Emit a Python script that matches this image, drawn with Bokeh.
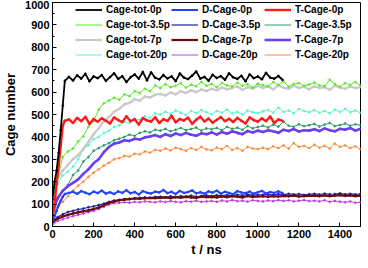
from bokeh.plotting import figure
from bokeh.models import Legend, LegendItem, FixedTicker, Range1d
from bokeh.embed import file_html
from bokeh.resources import INLINE

# ---- time grids (ns) ----
T0 = [0, 10, 20, 30, 40, 50, 60,
      80, 100, 120, 140, 160, 180, 200, 220, 240, 260,
      280, 300, 320, 340, 360, 380, 400, 420, 440, 460,
      480, 500, 520, 540, 560, 580, 600, 620, 640, 660,
      680, 700, 720, 740, 760, 780, 800, 820, 840, 860,
      880, 900, 920, 940, 960, 980, 1000, 1020, 1040, 1060,
      1080, 1100, 1120]

T1 = [0, 10,
      25, 50, 75, 100, 125, 150, 175, 200, 225, 250,
      275, 300, 325, 350, 375, 400, 425, 450, 475, 500,
      525, 550, 575, 600, 625, 650, 675, 700, 725, 750,
      775, 800, 825, 850, 875, 900, 925, 950, 975, 1000,
      1025, 1050, 1075, 1100, 1125, 1150, 1175, 1200, 1225, 1250,
      1275, 1300, 1325, 1350, 1375, 1400, 1425, 1450, 1475, 1500]

# ---- 0p series (on T0) ----
cage_tot_0p = [120, 200, 250, 330, 430, 540, 650,
               668, 652, 675, 660, 682, 648, 670, 662, 676, 650,
               667, 684, 659, 671, 645, 666, 679, 660, 690, 652,
               688, 664, 657, 676, 661, 670, 649, 683, 665, 658,
               674, 692, 660, 668, 651, 677, 663, 671, 655, 684,
               666, 659, 673, 648, 679, 662, 670, 657, 686, 665,
               660, 672, 655]
d_cage_0p = [25, 45, 70, 95, 115, 132, 145,
             150, 155, 146, 158, 151, 144, 156, 149, 160, 147,
             153, 145, 157, 150, 162, 148, 154, 143, 158, 151,
             147, 156, 152, 163, 149, 155, 145, 159, 150, 154,
             161, 148, 153, 146, 157, 151, 160, 147, 155, 150,
             144, 158, 152, 149, 156, 146, 153, 159, 148, 154,
             150, 157, 149]
t_cage_0p = [40, 100, 190, 270, 360, 450, 472,
             478, 462, 485, 470, 490, 458, 480, 468, 483, 472,
             460, 487, 475, 466, 492, 470, 479, 455, 484, 474,
             468, 488, 462, 479, 471, 495, 465, 480, 473, 486,
             458, 477, 490, 469, 482, 463, 476, 489, 470, 481,
             466, 485, 472, 460, 487, 475, 468, 483, 470, 491,
             462, 478, 472]

# ---- other series (on T1) ----
cage_tot_35p = [130, 170,
                220, 310, 335, 348, 380, 402, 445, 470, 522, 550,
                562, 575, 566, 590, 582, 604, 596, 615, 604, 630,
                618, 635, 622, 628, 640, 620, 633, 626, 645, 628,
                636, 622, 640, 630, 625, 642, 628, 635, 620, 638,
                630, 626, 645, 632, 648, 624, 636, 640, 628, 634,
                642, 630, 626, 655, 636, 624, 640, 632, 645, 630]
d_cage_35p = [20, 30,
              42, 55, 65, 70, 76, 80, 86, 90, 96, 102,
              110, 116, 118, 122, 124, 126, 128, 130, 128, 132,
              133, 130, 135, 132, 136, 134, 138, 133, 136, 139,
              136, 140, 137, 141, 138, 142, 139, 143, 140, 141,
              142, 144, 140, 145, 142, 146, 143, 145, 141, 144,
              146, 143, 147, 144, 145, 148, 144, 146, 143, 145]
t_cage_35p = [80, 110,
              130, 158, 185, 230, 250, 290, 310, 338, 350, 362,
              372, 385, 392, 400, 410, 405, 418, 425, 420, 432,
              428, 436, 425, 432, 440, 430, 435, 442, 428, 438,
              434, 440, 430, 445, 436, 441, 432, 448, 438, 444,
              450, 442, 455, 446, 468, 450, 445, 456, 448, 452,
              458, 446, 455, 462, 448, 453, 460, 450, 456, 452]
cage_tot_7p = [140, 180,
               215, 250, 275, 302, 318, 348, 378, 412, 438, 470,
               488, 512, 525, 545, 552, 568, 562, 580, 576, 588,
               592, 585, 598, 590, 604, 596, 608, 600, 612, 605,
               615, 608, 620, 612, 618, 625, 610, 622, 615, 628,
               618, 625, 612, 630, 620, 615, 628, 618, 624, 612,
               626, 618, 622, 610, 628, 620, 615, 625, 618, 622]
d_cage_7p = [20, 28,
             35, 45, 52, 58, 63, 68, 72, 78, 85, 95,
             105, 112, 118, 120, 122, 125, 124, 126, 128, 127,
             128, 130, 127, 131, 129, 132, 130, 128, 133, 131,
             132, 130, 134, 131, 135, 133, 130, 136, 132, 134,
             135, 133, 136, 134, 137, 135, 138, 134, 136, 137,
             138, 135, 139, 136, 138, 140, 137, 139, 136, 138]
t_cage_7p = [50, 90,
             125, 160, 180, 195, 210, 235, 255, 282, 300, 332,
             355, 370, 375, 385, 382, 392, 388, 398, 402, 408,
             400, 412, 404, 415, 408, 418, 410, 405, 416, 412,
             420, 410, 422, 414, 425, 418, 412, 426, 420, 428,
             422, 430, 425, 418, 432, 426, 435, 424, 430, 428,
             434, 426, 438, 430, 425, 436, 432, 440, 428, 436]
cage_tot_20p = [120, 150,
                190, 228, 245, 268, 300, 345, 362, 390, 400, 418,
                428, 445, 452, 468, 462, 480, 476, 492, 485, 505,
                500, 512, 503, 518, 508, 498, 515, 506, 520, 510,
                502, 516, 508, 522, 505, 512, 500, 518, 510, 506,
                514, 520, 508, 530, 512, 518, 505, 525, 515, 510,
                520, 508, 516, 505, 522, 512, 525, 510, 518, 508]
d_cage_20p = [10, 18,
              25, 32, 40, 46, 52, 58, 64, 70, 78, 88,
              98, 104, 106, 108, 106, 110, 108, 112, 110, 108,
              112, 109, 114, 110, 108, 113, 111, 115, 110, 112,
              114, 110, 116, 112, 118, 113, 115, 111, 117, 114,
              112, 116, 113, 118, 114, 117, 112, 115, 118, 113,
              115, 112, 117, 110, 114, 111, 108, 112, 106, 108]
t_cage_20p = [60, 75,
              90, 110, 135, 160, 182, 200, 222, 240, 255, 272,
              285, 300, 305, 315, 312, 325, 322, 335, 330, 342,
              338, 348, 340, 352, 345, 338, 350, 342, 355, 344,
              340, 352, 345, 360, 342, 350, 338, 355, 348, 345,
              352, 345, 358, 350, 362, 348, 372, 356, 360, 350,
              365, 352, 360, 348, 370, 356, 362, 350, 358, 345]

x_ticks = [0, 200, 400, 600, 800, 1000, 1200, 1400]
x_minor = [100, 300, 500, 700, 900, 1100, 1300, 1500]
y_ticks = [0, 100, 200, 300, 400, 500, 600, 700, 800, 900, 1000]
y_minor = [50, 150, 250, 350, 450, 550, 650, 750, 850, 950]

FONT = "Liberation Sans"

p = figure(frame_width=308, frame_height=224,
           x_range=Range1d(0, 1500), y_range=Range1d(0, 1000),
           output_backend="svg", toolbar_location=None,
           min_border_left=46, min_border_top=2, min_border_right=4,
           min_border_bottom=30)
p.xgrid.visible = False
p.ygrid.visible = False
p.outline_line_color = "black"
p.outline_line_alpha = 1.0
p.outline_line_width = 1

p.xaxis.ticker = FixedTicker(ticks=x_ticks, minor_ticks=x_minor)
p.yaxis.ticker = FixedTicker(ticks=y_ticks, minor_ticks=y_minor)
p.xaxis.axis_label = "t / ns"
p.yaxis.axis_label = "Cage number"
for ax in (p.xaxis[0], p.yaxis[0]):
    ax.major_label_text_font = FONT
    ax.major_label_text_font_style = "bold"
    ax.major_label_text_font_size = "11px"
    ax.major_label_text_color = "black"
    ax.axis_label_text_font = FONT
    ax.axis_label_text_font_style = "bold"
    ax.axis_label_text_font_size = "13px"
    ax.axis_label_text_color = "black"
    ax.major_tick_in = 4
    ax.major_tick_out = 0
    ax.minor_tick_in = 2
    ax.minor_tick_out = 0
    ax.axis_line_color = "black"
    ax.major_tick_line_color = "black"
    ax.minor_tick_line_color = "black"
    ax.major_label_standoff = 3
p.xaxis.axis_label_standoff = 1
p.yaxis.axis_label_standoff = 4

series = {
    "T-Cage-20p": (T1, t_cage_20p, "#ff8a3d", 1.0),
    "D-Cage-20p": (T1, d_cage_20p, "#c040e8", 1.0),
    "T-Cage-3.5p": (T1, t_cage_35p, "#2a9d6a", 1.0),
    "Cage-tot-20p": (T1, cage_tot_20p, "#5cf5cc", 1.0),
    "Cage-tot-7p": (T1, cage_tot_7p, "#c8c8c8", 2.2),
    "Cage-tot-3.5p": (T1, cage_tot_35p, "#55ee22", 1.0),
    "D-Cage-3.5p": (T1, d_cage_35p, "#2222aa", 1.2),
    "D-Cage-7p": (T1, d_cage_7p, "#6b0a0a", 2.2),
    "T-Cage-7p": (T1, t_cage_7p, "#6a40f0", 2.6),
    "D-Cage-0p": (T0, d_cage_0p, "#2244ff", 2.0),
    "T-Cage-0p": (T0, t_cage_0p, "#ff1a1a", 2.4),
    "Cage-tot-0p": (T0, cage_tot_0p, "#000000", 1.8),
}

rend = {}
for name, (tx, vy, col, lw) in series.items():
    l = p.line(tx, vy, line_color=col, line_width=lw)
    p.scatter(tx, vy, marker="circle", size=1.8, fill_color=col, line_color=col)
    rend[name] = l

columns = [
    (["Cage-tot-0p", "Cage-tot-3.5p", "Cage-tot-7p", "Cage-tot-20p"], 23),
    (["D-Cage-0p", "D-Cage-3.5p", "D-Cage-7p", "D-Cage-20p"], 119),
    (["T-Cage-0p", "T-Cage-3.5p", "T-Cage-7p", "T-Cage-20p"], 212),
]
for names, xoff in columns:
    items = [LegendItem(label=n, renderers=[rend[n]]) for n in names]
    leg = Legend(items=items, location=(xoff, 164), orientation="vertical",
                 border_line_alpha=0, background_fill_alpha=0,
                 padding=0, margin=0, spacing=0,
                 glyph_width=27, glyph_height=15, label_height=15,
                 label_standoff=4, label_text_font=FONT,
                 label_text_font_style="bold", label_text_font_size="10px",
                 label_text_color="black")
    p.add_layout(leg)

open("out.html", "w").write(file_html(p, INLINE))
